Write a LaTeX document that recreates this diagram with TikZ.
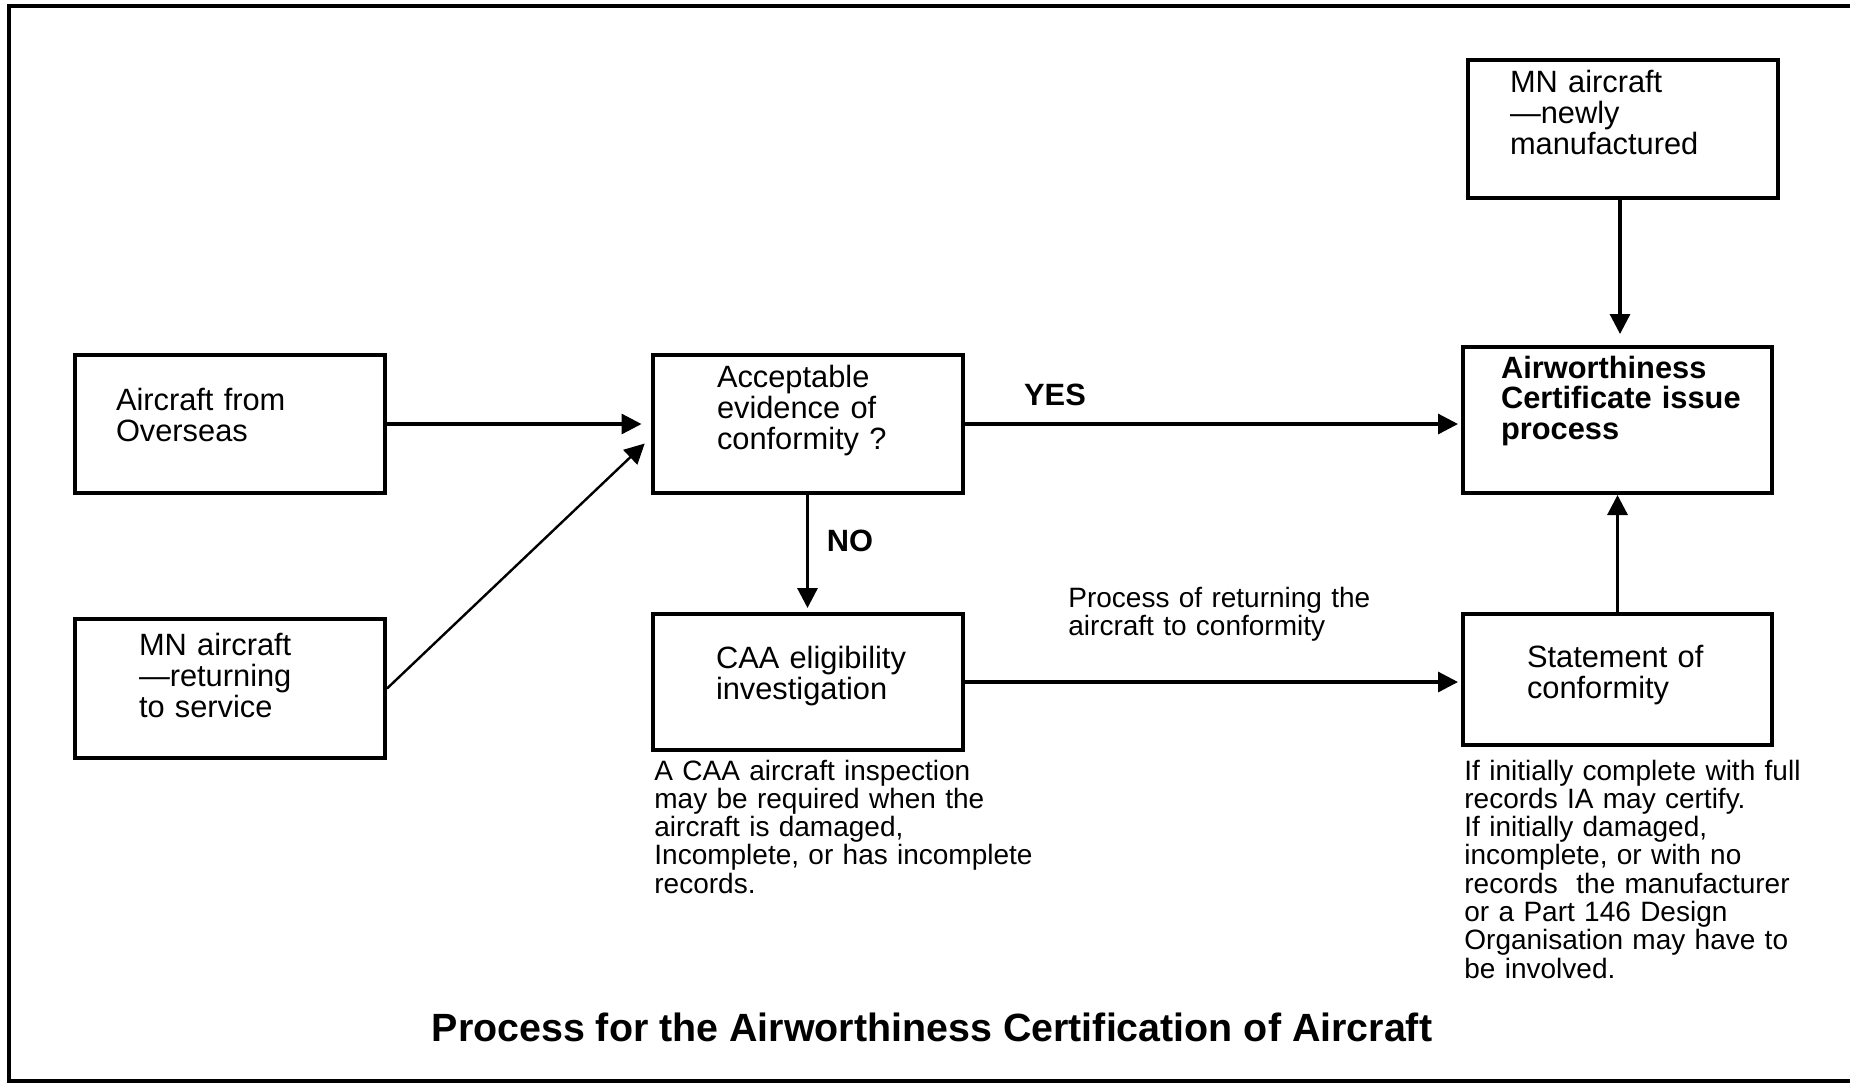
\documentclass[tikz,border=0pt]{standalone}
\usepackage{fontspec}
\setmainfont{Liberation Sans}
\usetikzlibrary{arrows.meta}

\begin{document}
\begin{tikzpicture}[x=0.5pt, y=-0.5pt,
  box/.style={rectangle, draw, line width=2pt, minimum width=155pt, minimum height=69pt,
    inner sep=0pt, align=left, text height=11pt, font=\fontsize{15.4}{15.6}\selectfont},
  flow/.style={-{Triangle[length=10pt,width=10pt]}, line width=1.6pt, shorten >=2pt},
  note/.style={anchor=base west, align=left, inner sep=0pt, font=\fontsize{14}{14.15}\selectfont},
  answer/.style={anchor=base, inner sep=0pt, font=\fontsize{15.4}{15.6}\selectfont\bfseries}]
  \useasboundingbox (0,0) rectangle (1850,1084);

  % outer frame, open at the right edge
  \draw[line width=1.6pt] (1850,6) -- (9,6) -- (9,1081) -- (1850,1081);

  % Boxes
  \node[box, text width=114pt, text depth=25pt] (overseas) at (230,424) {Aircraft from\\Overseas};
  \node[box, text width=91pt, text depth=44.5pt, minimum height=69.5pt] (returning) at (230,688.5) {MN aircraft\\—returning\\to service};
  \node[box, text width=90.5pt, text depth=48pt] (acc) at (807.5,424) {Acceptable\\evidence of\\conformity ?};
  \node[box, text width=91.5pt, text depth=25pt, minimum height=68pt] (caa) at (807.5,682) {\mbox{CAA eligibility}\\investigation};
  \node[box, text width=113pt, text depth=48pt] (newly) at (1623,129) {MN aircraft\\—newly\\manufactured};
  \node[box, text width=116.5pt, text depth=53pt, minimum width=154.5pt, minimum height=73pt,
    font=\fontsize{15.4}{15.3}\selectfont\bfseries] (cert) at (1617.5,420) {Airworthiness\\\mbox{Certificate issue}\\process};
  \node[box, text width=90.5pt, text depth=23.5pt, minimum width=154.5pt, minimum height=65.5pt] (stmt) at (1617.5,679.5) {Statement of\\conformity};

  % Arrows
  \draw[flow, shorten >=4.5pt] (overseas.east) -- (acc.west);
  \draw[flow, line width=1.2pt, shorten >=4pt] (returning.east) -- ([yshift=-7pt]acc.west);
  \draw[flow] (acc.south) -- (caa.north);
  \draw[flow, shorten >=1.5pt] (acc.east) -- (acc.east -| cert.west);
  \draw[flow, shorten >=5.5pt] ([xshift=-1.5pt]newly.south) -- ([xshift=-1.5pt]newly.south |- cert.north);
  \draw[flow, shorten >=1.5pt] (caa.east) -- (caa.east -| stmt.west);
  \draw[flow, shorten >=0pt] (stmt.north) -- (cert.south);

  % Labels
  \node[answer] (yes) at (1055,405) {YES};
  \node[answer] (no) at (850,551) {NO};
  \node[note, text width=160pt] (returnnote) at (1068,607) {Process of returning the\\aircraft to conformity};
  \node[note, text width=200pt] (caanote) at (654,780) {A CAA aircraft inspection\\may be required when the\\aircraft is damaged,\\Incomplete, or has incomplete\\records.};
  \node[note, text width=175pt] (stmtnote) at (1464,780) {If initially complete with full\\records IA may certify.\\If initially damaged,\\incomplete, or with no\\records~ the manufacturer\\or a Part 146 Design\\Organisation may have to\\be involved.};
  \node[anchor=base, inner sep=0pt, font=\fontsize{19.7}{22}\selectfont\bfseries] (title) at (932,1041) {Process for the Airworthiness Certification of Aircraft};
\end{tikzpicture}
\end{document}
